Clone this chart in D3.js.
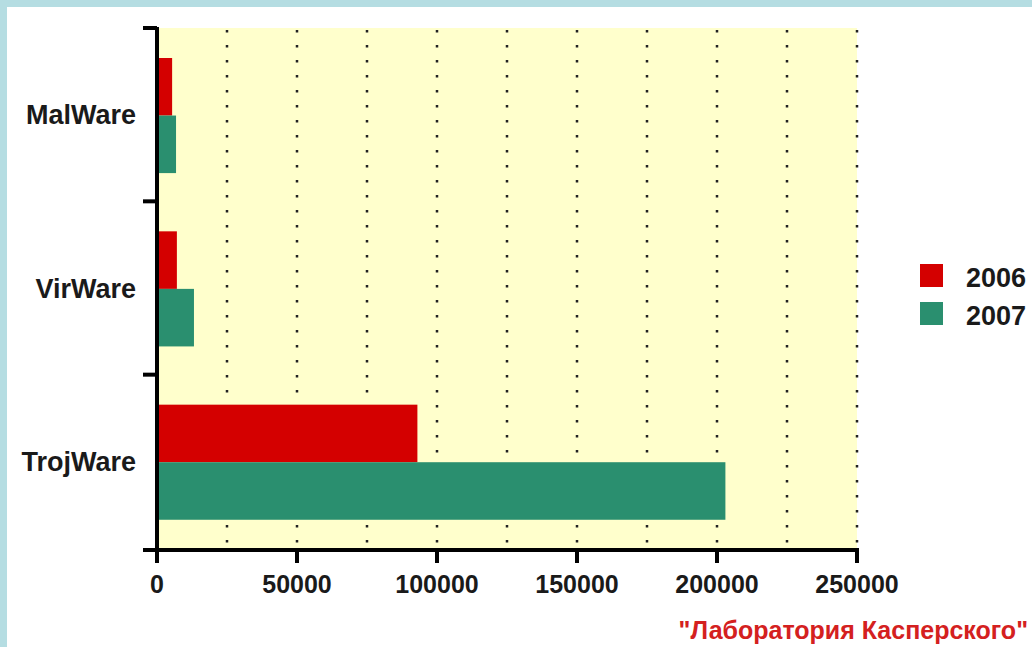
<!DOCTYPE html>
<html><head><meta charset="utf-8">
<script src="https://cdn.jsdelivr.net/npm/d3@7/dist/d3.min.js"></script>
<style>html,body{margin:0;padding:0;background:#fff;}svg{display:block;}</style>
</head><body>
<script>
const categories = ["MalWare", "VirWare", "TrojWare"];
const years = ["2006", "2007"];
const values2006 = [5400, 7100, 93000];
const values2007 = [6800, 13200, 203000];
const xTicks = [0, 50000, 100000, 150000, 200000, 250000];
const gridTicks = [25000, 50000, 75000, 100000, 125000, 150000, 175000, 200000, 225000, 250000];
const caption = "\"Лаборатория Касперского\"";

(function () {
const W = 1032, H = 647;
const svg = d3.select("body").append("svg").attr("width", W).attr("height", H);
svg.append("rect").attr("width", W).attr("height", H).attr("fill", "#b5dde2");
svg.append("rect").attr("x", 7).attr("y", 7).attr("width", W - 7).attr("height", H - 7).attr("fill", "#ffffff");

const pL = 157, pR = 857, pT = 28, pB = 550;
const x = d3.scaleLinear().domain([0, 250000]).range([pL, pR]);
const y = d3.scaleBand().domain(categories).range([pT, pB - 2]).paddingInner(0).paddingOuter(0);
const colors = {"2006": "#d40000", "2007": "#2a8f6f"};

// plot background
svg.append("rect").attr("x", pL).attr("y", pT).attr("width", pR - pL).attr("height", pB - pT)
  .attr("fill", "#ffffcc");

// dotted grid
svg.append("g").selectAll("line").data(gridTicks).join("line")
  .attr("x1", d => x(d)).attr("x2", d => x(d))
  .attr("y1", pT + 2).attr("y2", pB - 2)
  .attr("stroke", "#222").attr("stroke-width", 2.5).attr("stroke-dasharray", "2.5,12.5");

// bars
const bandPad = 30;
const barH = y.bandwidth() * 0.332;
const g = svg.append("g");
categories.forEach((c, i) => {
  const vals = [values2006[i], values2007[i]];
  vals.forEach((v, j) => {
    g.append("rect")
      .attr("x", x(0) + 2)
      .attr("y", y(c) + bandPad + j * barH)
      .attr("width", x(v) - x(0) - 2)
      .attr("height", barH)
      .attr("fill", colors[years[j]]);
  });
});

// y axis
const yAxis = svg.append("g");
yAxis.append("line").attr("x1", pL).attr("x2", pL).attr("y1", pT - 1).attr("y2", pB + 13)
  .attr("stroke", "#000").attr("stroke-width", 4);
const yTickPos = categories.map(c => y(c)).concat([pB]);
yAxis.selectAll(".yt").data(yTickPos).join("line")
  .attr("x1", 143).attr("x2", pL).attr("y1", d => d).attr("y2", d => d)
  .attr("stroke", "#000").attr("stroke-width", 4);
yAxis.selectAll("text").data(categories).join("text")
  .attr("x", 136).attr("y", d => y(d) + y.bandwidth() / 2)
  .attr("dy", "0.36em").attr("text-anchor", "end")
  .attr("font-family", "Liberation Sans, Arial, sans-serif").attr("font-weight", "bold")
  .attr("font-size", 27).attr("fill", "#1a1a1a").text(d => d);

// x axis
const xAxis = svg.append("g");
xAxis.append("line").attr("x1", 143).attr("x2", pR + 2).attr("y1", pB).attr("y2", pB)
  .attr("stroke", "#000").attr("stroke-width", 4);
xAxis.selectAll(".xt").data(xTicks).join("line")
  .attr("x1", d => x(d)).attr("x2", d => x(d)).attr("y1", pB).attr("y2", pB + 13)
  .attr("stroke", "#000").attr("stroke-width", 4);
xAxis.selectAll("text").data(xTicks).join("text")
  .attr("x", d => x(d)).attr("y", 593).attr("text-anchor", "middle")
  .attr("font-family", "Liberation Sans, Arial, sans-serif").attr("font-weight", "bold")
  .attr("font-size", 25).attr("fill", "#1a1a1a").text(d => d);

// legend
const leg = svg.append("g");
years.forEach((yr, i) => {
  leg.append("rect").attr("x", 920).attr("y", 264 + i * 38).attr("width", 23).attr("height", 23)
    .attr("fill", colors[yr]);
  leg.append("text").attr("x", 966).attr("y", 287 + i * 38)
    .attr("font-family", "Liberation Sans, Arial, sans-serif").attr("font-weight", "bold")
    .attr("font-size", 27).attr("fill", "#1a1a1a").text(yr);
});

// caption
svg.append("text").attr("x", 1028).attr("y", 639).attr("text-anchor", "end")
  .attr("font-family", "Liberation Sans, Arial, sans-serif").attr("font-weight", "bold")
  .attr("font-size", 25).attr("fill", "#d42020").text(caption);
})();
</script>
</body></html>
